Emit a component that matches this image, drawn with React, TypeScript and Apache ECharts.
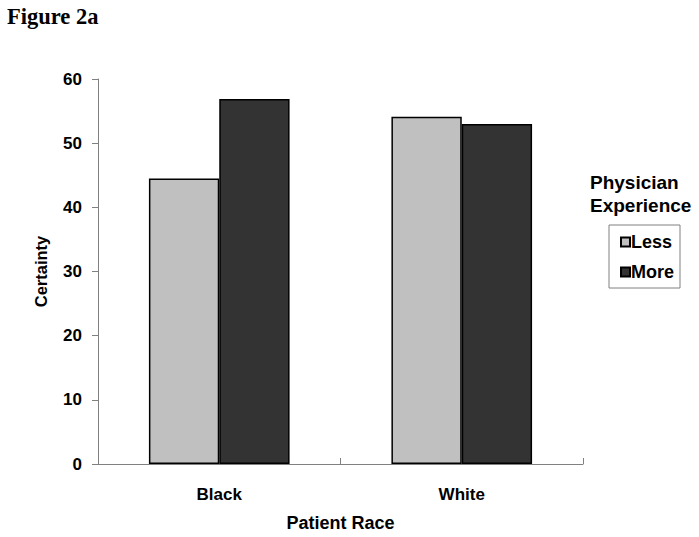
import React, { useEffect, useRef } from "react";
import * as echarts from "echarts";

const categories = ["Black", "White"];
const lessValues = [44.5, 54.1];
const moreValues = [56.9, 53.0];
const yTicks = [0, 10, 20, 30, 40, 50, 60];

export default function App() {
  const ref = useRef<HTMLDivElement>(null);
  useEffect(() => {
    if (!ref.current) return;
    const chart = echarts.init(ref.current, null, { renderer: "svg" });
    const font = "'Liberation Sans', Arial, sans-serif";
    chart.setOption({
      animation: false,
      backgroundColor: "#ffffff",
      grid: { left: 98, right: 116, top: 79, bottom: 72 },
      xAxis: {
        type: "category",
        data: categories,
        name: "Patient Race",
        nameLocation: "middle",
        nameGap: 50,
        nameTextStyle: { fontFamily: font, fontWeight: "bold", fontSize: 18, color: "#000" },
        axisLine: { lineStyle: { color: "#808080", width: 1 } },
        axisTick: { show: true, inside: true, length: 6, lineStyle: { color: "#808080" } },
        axisLabel: { fontFamily: font, fontWeight: "bold", fontSize: 17, color: "#000", margin: 22 },
      },
      yAxis: {
        type: "value",
        min: yTicks[0],
        max: yTicks[yTicks.length - 1],
        interval: 10,
        name: "Certainty",
        nameLocation: "middle",
        nameGap: 49,
        nameTextStyle: { fontFamily: font, fontWeight: "bold", fontSize: 16.5, color: "#000" },
        axisLine: { show: true, lineStyle: { color: "#808080", width: 1 } },
        axisTick: { show: true, length: 6, lineStyle: { color: "#808080" } },
        splitLine: { show: false },
        axisLabel: { fontFamily: font, fontWeight: "bold", fontSize: 17, color: "#000", margin: 16 },
      },
      legend: {
        orient: "vertical",
        left: 609,
        top: 225,
        borderColor: "#808080",
        borderWidth: 1,
        padding: [8, 6, 7, 11],
        itemWidth: 9,
        itemHeight: 9,
        itemGap: 12,
        icon: "rect",
        textStyle: { fontFamily: font, fontWeight: "bold", fontSize: 18, color: "#000", padding: [0, 0, 0, -4] },
        data: ["Less", "More"],
      },
      graphic: [
        {
          type: "text",
          left: 7,
          top: 5,
          style: { text: "Figure 2a", fontFamily: "'Liberation Serif', 'Times New Roman', serif", fontWeight: "bold", fontSize: 22.5, fill: "#000" },
        },
        {
          type: "text",
          left: 590,
          top: 171,
          style: { text: "Physician\nExperience", fontFamily: font, fontWeight: "bold", fontSize: 19, lineHeight: 23, fill: "#000" },
        },
      ],
      series: [
        {
          name: "Less",
          type: "bar",
          data: lessValues,
          barWidth: "29%",
          barGap: "0%",
          itemStyle: { color: "#c0c0c0", borderColor: "#000", borderWidth: 1.5 },
        },
        {
          name: "More",
          type: "bar",
          data: moreValues,
          barWidth: "29%",
          barGap: "0%",
          itemStyle: { color: "#333333", borderColor: "#000", borderWidth: 1.5 },
        },
      ],
    });
    return () => chart.dispose();
  }, []);
  return (
    <div
      ref={ref}
      style={{ position: "fixed", left: 0, top: 0, width: 699, height: 537, background: "#fff" }}
    />
  );
}
